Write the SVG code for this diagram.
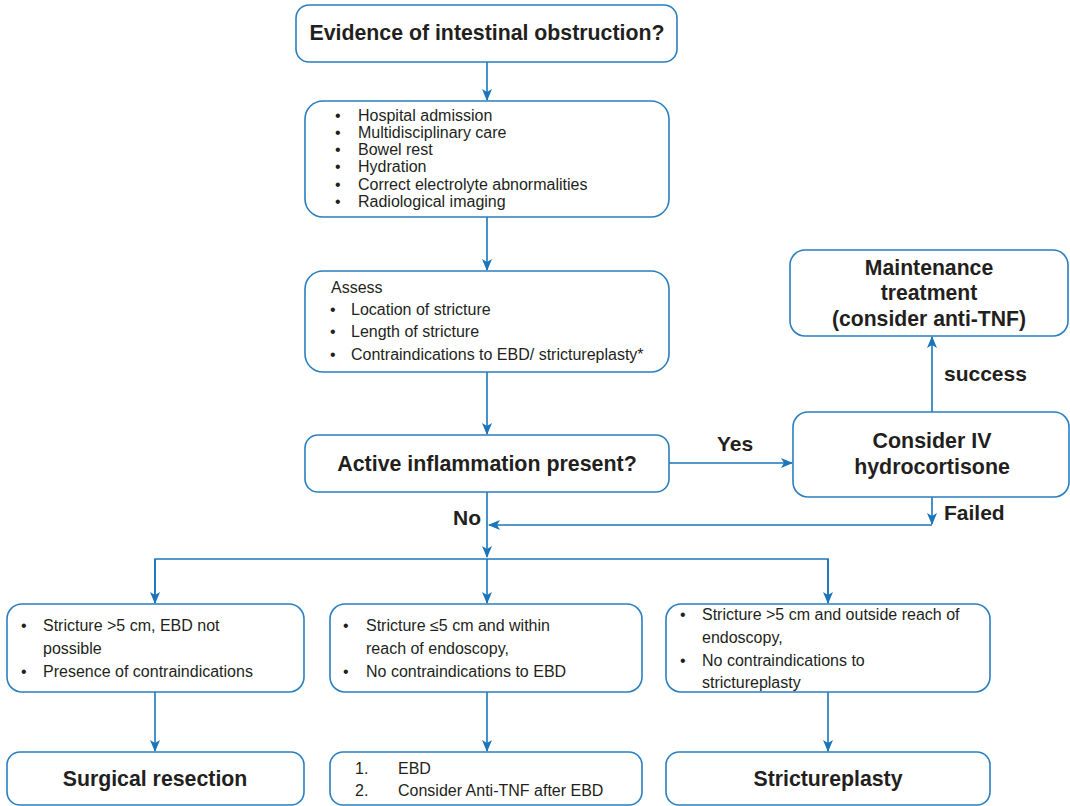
<svg xmlns="http://www.w3.org/2000/svg" width="1070" height="806" viewBox="0 0 1070 806">
<defs>
<marker id="ah" viewBox="0 0 12 10" refX="11" refY="5" markerWidth="12" markerHeight="10" markerUnits="userSpaceOnUse" orient="auto">
<path d="M0,0 L12,5 L0,10 L3,5 Z" fill="#1b75bb"/>
</marker>
<style>
.box{fill:#fff;stroke:#2a7fc0;stroke-width:1.6}
.ln{fill:none;stroke:#1b75bb;stroke-width:1.6}
.t{font-family:"Liberation Sans",Arial,sans-serif;font-size:16px;fill:#231f20}
.b{font-family:"Liberation Sans",Arial,sans-serif;font-weight:bold;fill:#231f20}
.c{text-anchor:middle}
</style>
</defs>
<rect width="1070" height="806" fill="#fff"/>
<g id="connectors">
<line class="ln" x1="487" y1="62" x2="487" y2="100" marker-end="url(#ah)"/>
<line class="ln" x1="487" y1="217" x2="487" y2="270" marker-end="url(#ah)"/>
<line class="ln" x1="487" y1="372" x2="487" y2="434" marker-end="url(#ah)"/>
<line class="ln" x1="669" y1="463" x2="792" y2="463" marker-end="url(#ah)"/>
<line class="ln" x1="932" y1="412" x2="932" y2="337" marker-end="url(#ah)"/>
<line class="ln" x1="932" y1="497" x2="932" y2="524" marker-end="url(#ah)"/>
<line class="ln" x1="932" y1="525" x2="489" y2="525" marker-end="url(#ah)"/>
<line class="ln" x1="487" y1="492" x2="487" y2="557" marker-end="url(#ah)"/>
<polyline class="ln" points="155,603 155,559 828,559 828,603"/>
<line class="ln" x1="155" y1="559" x2="155" y2="603" marker-end="url(#ah)"/>
<line class="ln" x1="487" y1="559" x2="487" y2="603" marker-end="url(#ah)"/>
<line class="ln" x1="828" y1="559" x2="828" y2="603" marker-end="url(#ah)"/>
<line class="ln" x1="155" y1="692" x2="155" y2="751" marker-end="url(#ah)"/>
<line class="ln" x1="487" y1="692" x2="487" y2="751" marker-end="url(#ah)"/>
<line class="ln" x1="828" y1="692" x2="828" y2="751" marker-end="url(#ah)"/>
<text class="b" x="735" y="451" font-size="21" text-anchor="middle">Yes</text>
<text class="b" x="944" y="381" font-size="21">success</text>
<text class="b" x="944" y="520" font-size="21">Failed</text>
<text class="b" x="453" y="525" font-size="21">No</text>
</g>
<g id="n1">
<rect class="box" x="296" y="5" width="381" height="57" rx="13"/>
<text class="b c" x="487" y="40" font-size="21.3">Evidence of intestinal obstruction?</text>
</g>
<g id="n2">
<rect class="box" x="305" y="101" width="364" height="116" rx="18"/>
<g class="t">
<text x="335" y="121">•</text><text x="358" y="121">Hospital admission</text>
<text x="335" y="138">•</text><text x="358" y="138">Multidisciplinary care</text>
<text x="335" y="155">•</text><text x="358" y="155">Bowel rest</text>
<text x="335" y="172">•</text><text x="358" y="172">Hydration</text>
<text x="335" y="190">•</text><text x="358" y="190">Correct electrolyte abnormalities</text>
<text x="335" y="207">•</text><text x="358" y="207">Radiological imaging</text>
</g>
</g>
<g id="n3">
<rect class="box" x="305" y="271" width="364" height="101" rx="18"/>
<g class="t">
<text x="331" y="293">Assess</text>
<text x="330" y="315">•</text><text x="351" y="315">Location of stricture</text>
<text x="330" y="337">•</text><text x="351" y="337">Length of stricture</text>
<text x="330" y="360">•</text><text x="351" y="360">Contraindications to EBD/ strictureplasty*</text>
</g>
</g>
<g id="n4">
<rect class="box" x="305" y="435" width="364" height="57" rx="13"/>
<text class="b c" x="487" y="471" font-size="21.4">Active inflammation present?</text>
</g>
<g id="n5">
<rect class="box" x="793" y="412" width="276" height="85" rx="15"/>
<text class="b c" x="932" y="448" font-size="21.4">Consider IV</text>
<text class="b c" x="932" y="474" font-size="21.4">hydrocortisone</text>
</g>
<g id="n6">
<rect class="box" x="790" y="250" width="278" height="86" rx="15"/>
<text class="b c" x="929" y="275" font-size="21.2">Maintenance</text>
<text class="b c" x="929" y="300" font-size="21.2">treatment</text>
<text class="b c" x="929" y="326" font-size="21.2">(consider anti-TNF)</text>
</g>
<g id="n7">
<rect class="box" x="7" y="604" width="297" height="88" rx="15"/>
<g class="t">
<text x="21" y="631">•</text><text x="43" y="631">Stricture &gt;5 cm, EBD not</text>
<text x="43" y="654">possible</text>
<text x="21" y="677">•</text><text x="43" y="677">Presence of contraindications</text>
</g>
</g>
<g id="n8">
<rect class="box" x="330" y="604" width="312" height="88" rx="15"/>
<g class="t">
<text x="343" y="631">•</text><text x="366" y="631">Stricture ≤5 cm and within</text>
<text x="366" y="654">reach of endoscopy,</text>
<text x="343" y="677">•</text><text x="366" y="677">No contraindications to EBD</text>
</g>
</g>
<g id="n9">
<rect class="box" x="666" y="604" width="324" height="88" rx="15"/>
<g class="t">
<text x="680" y="620">•</text><text x="702" y="620">Stricture &gt;5 cm and outside reach of</text>
<text x="702" y="643">endoscopy,</text>
<text x="680" y="666">•</text><text x="702" y="666">No contraindications to</text>
<text x="702" y="688">strictureplasty</text>
</g>
</g>
<g id="n10">
<rect class="box" x="7" y="752" width="297" height="53" rx="13"/>
<text class="b c" x="155" y="786" font-size="21.3">Surgical resection</text>
</g>
<g id="n11">
<rect class="box" x="330" y="752" width="312" height="53" rx="13"/>
<g class="t">
<text x="355" y="774">1.</text><text x="398" y="774">EBD</text>
<text x="355" y="796">2.</text><text x="398" y="796">Consider Anti-TNF after EBD</text>
</g>
</g>
<g id="n12">
<rect class="box" x="666" y="752" width="324" height="53" rx="13"/>
<text class="b c" x="828" y="786" font-size="21.3">Strictureplasty</text>
</g>
</svg>
